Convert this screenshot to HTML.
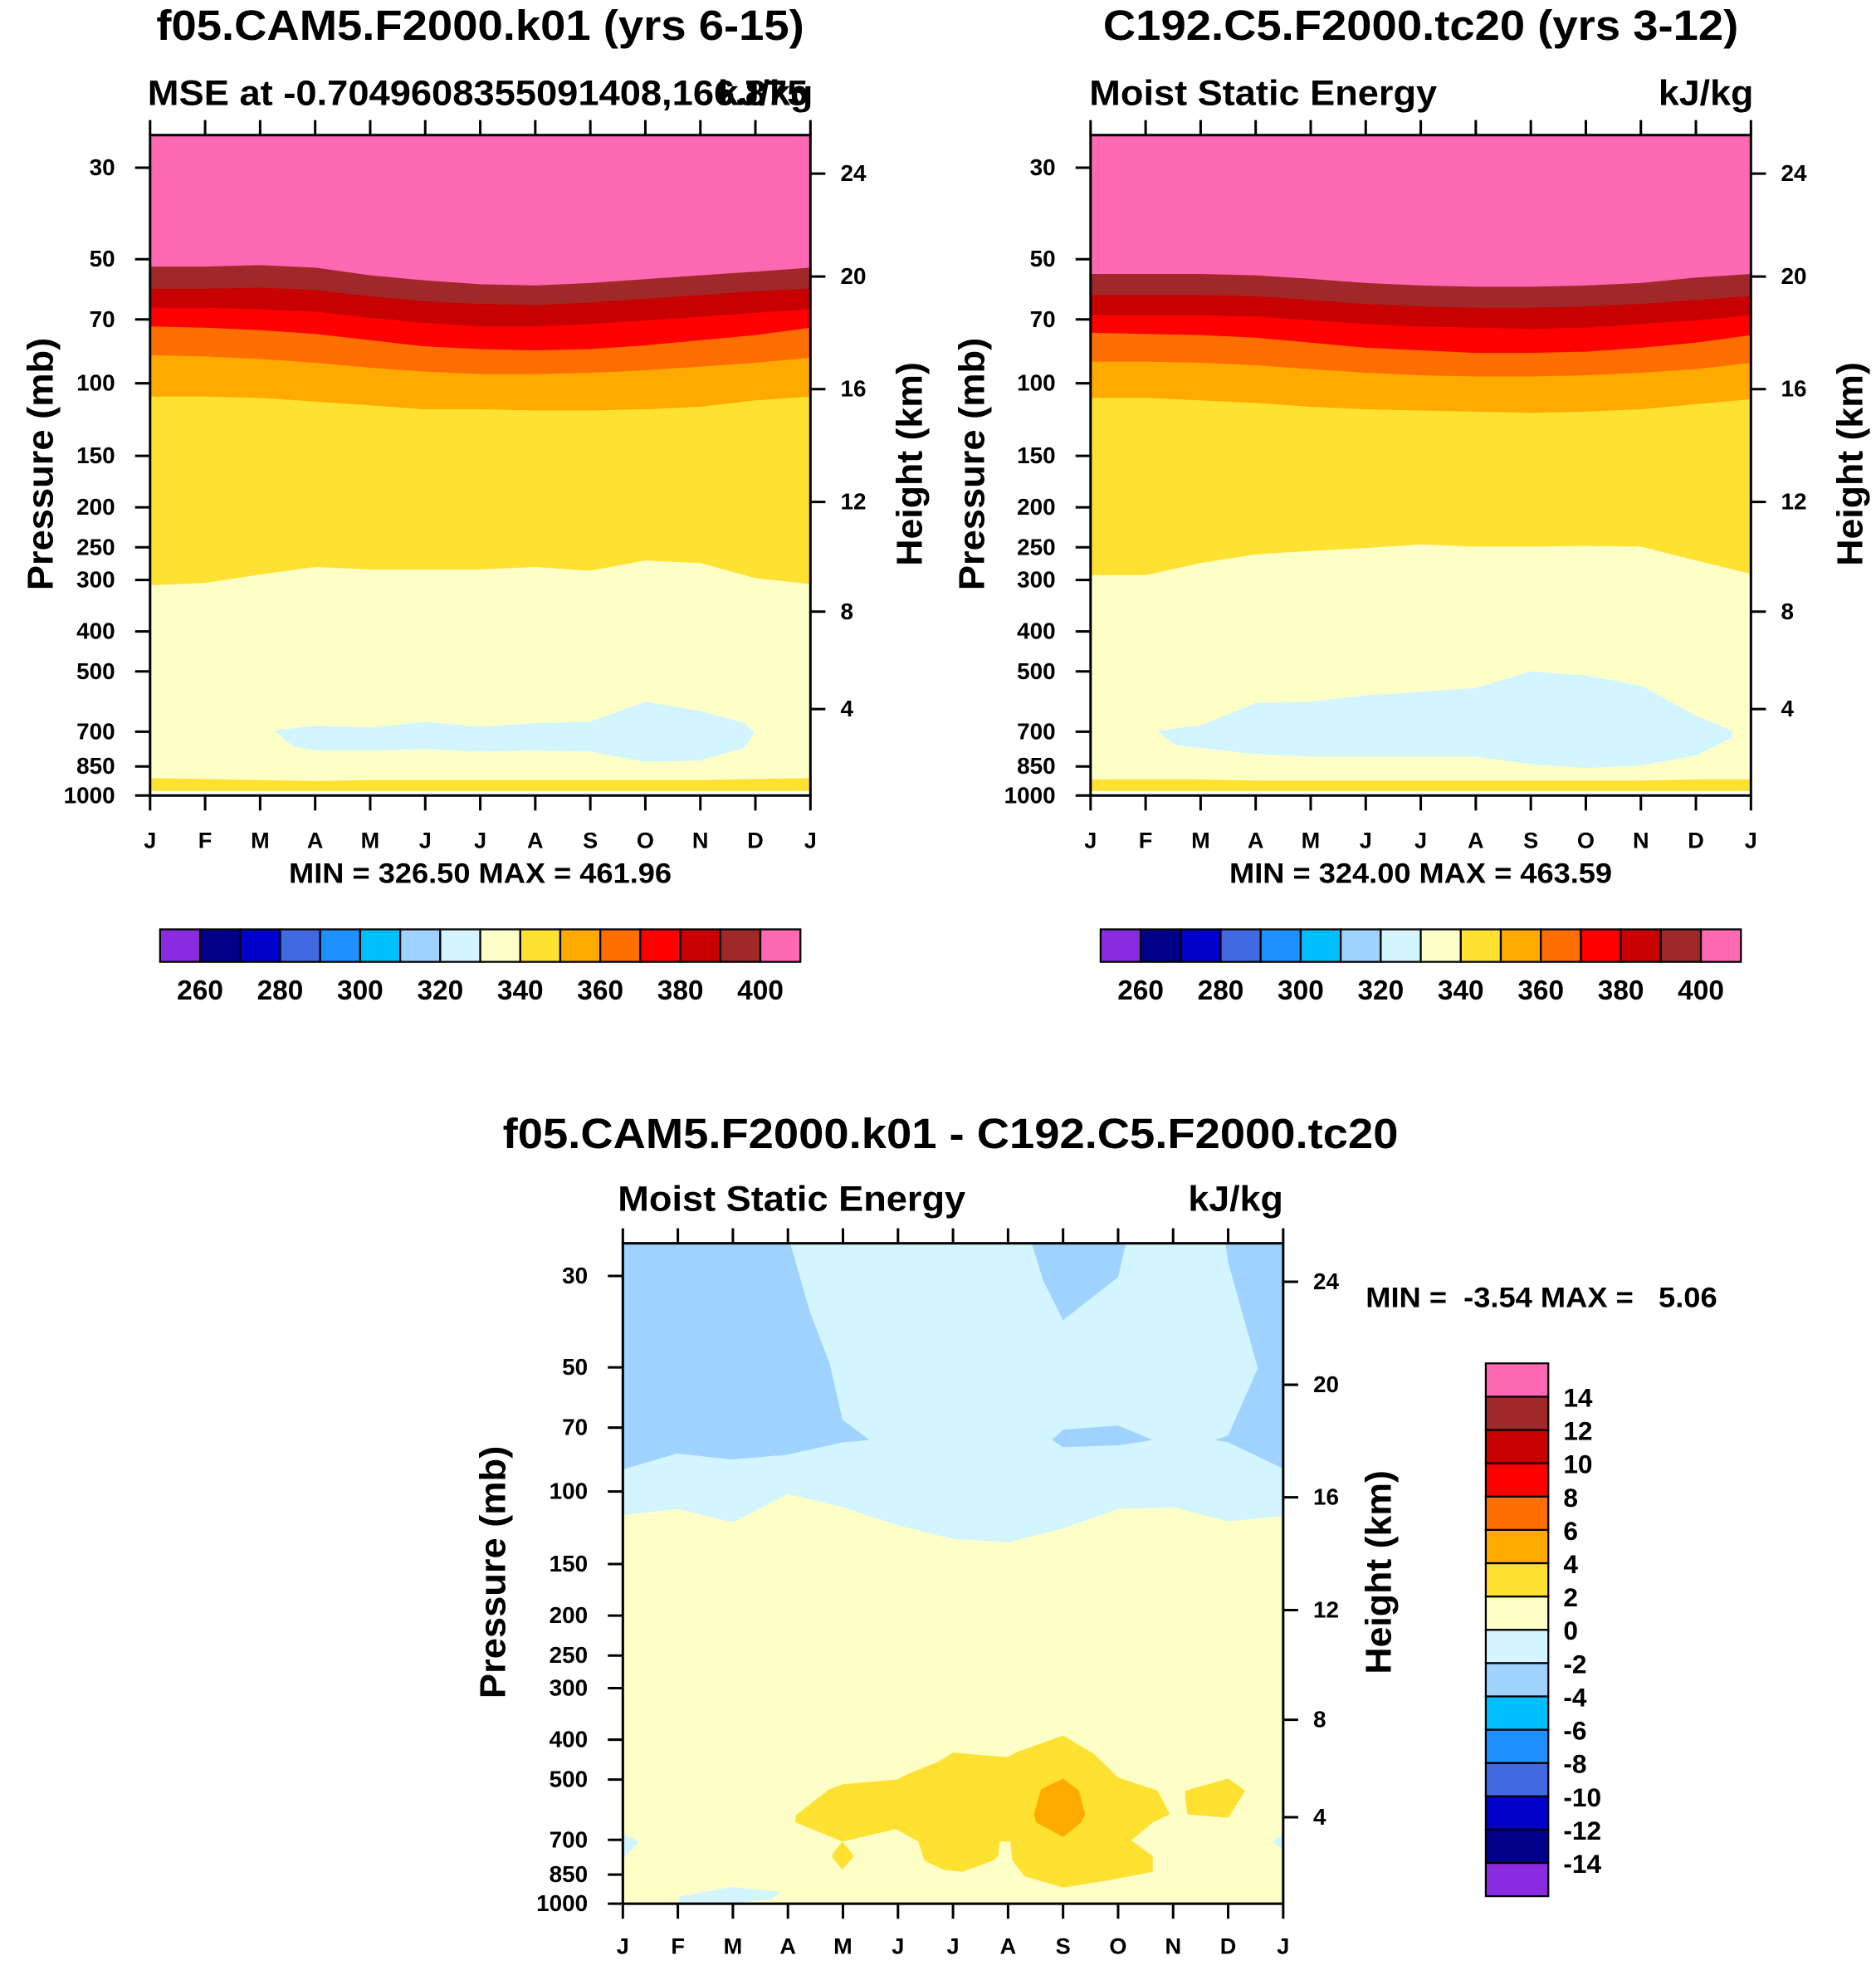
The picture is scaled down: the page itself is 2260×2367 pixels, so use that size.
<!DOCTYPE html>
<html><head><meta charset="utf-8"><style>
html,body{margin:0;padding:0;background:#fff}
svg{display:block}
text{font-family:"Liberation Sans",Arial,sans-serif;font-weight:bold;fill:#000}
</style></head><body>
<svg id="fig" xmlns="http://www.w3.org/2000/svg" width="2260" height="2367" viewBox="0 0 1500 1571"></svg>
<script>
// ---------- data ----------
const months = ['J','F','M','A','M','J','J','A','S','O','N','D','J'];
const pTicks = [30,50,70,100,150,200,250,300,400,500,700,850,1000];
const hTickLabels = [24,20,16,12,8,4];
const hTickPress = [31.0,55.1,103.3,194,358,617];
const colors = ['#8A2BE2','#00008B','#0000CD','#4169E1','#1E90FF','#00BFFF','#A0D2FF','#D2F5FF','#FFFFC8','#FFE132','#FFAA00','#FF6E00','#FF0000','#C80000','#A02828','#FF69B4'];
const mseLabels = [260,280,300,320,340,360,380,400];
const diffLabels = [14,12,10,8,6,4,2,0,-2,-4,-6,-8,-10,-12,-14];

// Panel 1 (f05.CAM5) contour boundaries, pressure (mb) per month
const k01_400 = [52.1,52.1,51.7,52.4,54.7,56.3,57.5,57.9,57.1,55.9,54.7,53.6,52.4];
const k01_390 = [59.0,59.0,58.6,59.4,61.5,63.3,64.2,64.6,63.7,62.4,61.1,59.8,59.0];
const k01_380 = [65.6,65.6,66.1,67.0,69.4,71.4,72.8,72.8,71.8,70.4,68.9,67.5,66.1];
const k01_370 = [72.8,73.3,74.3,75.9,78.6,81.4,82.6,83.2,82.6,80.9,78.6,76.4,73.3];
const k01_360 = [85.5,86.1,87.3,89.2,91.7,93.7,95.0,95.0,94.3,93.0,91.1,89.2,86.7];
const k01_350 = [107.7,107.7,108.5,110.8,113.2,115.6,115.6,116.4,116.4,115.6,114.0,110.0,107.7];
const k01_340 = [309,305,291,279,283,283,283,279,285,269,273,297,307];
const k01_330 = [[2.25,696],[3,676],[4,685],[5,662],[6,681],[7,667],[8,662],[9,592],[10,623],[10.8,667],[10.98,705],[10.8,766],[10,823],[9,829],[8,783],[7,778],[6,783],[5,772],[4,778],[3,778],[2.6,761]];
const k01_sfc = [907,912,917,922,917,917,917,917,917,917,917,912,907];

// Panel 2 (C192) contour boundaries
const tc20_400 = [54.3,54.3,54.3,54.7,55.8,57.1,57.9,58.3,58.3,57.9,57.1,55.4,54.3];
const tc20_390 = [61.1,61.1,61.1,61.5,62.8,64.2,65.1,65.6,65.6,65.1,64.2,62.8,61.5];
const tc20_380 = [68.4,68.4,68.4,68.9,70.4,71.8,72.8,73.3,73.8,73.3,71.8,70.4,68.4];
const tc20_370 = [75.4,75.9,76.4,77.5,79.7,82.0,83.2,84.4,84.4,83.8,82.0,79.7,76.4];
const tc20_360 = [88.6,88.6,89.2,90.4,92.4,94.3,95.6,96.3,96.3,95.6,94.3,92.4,89.2];
const tc20_350 = [108.5,108.5,110.0,111.6,114.0,115.6,116.4,117.2,118.0,117.2,115.6,112.4,109.3];
const tc20_340 = [292,292,273,260,255,251,246,249,249,248,249,269,290];
const tc20_330 = [[1.2,696],[2,676],[3,596],[4,592],[5,571],[6,560],[7,548],[8,500],[9,511],[10,541],[11,640],[11.66,696],[11.66,725],[11,800],[10,846],[9,858],[8,840],[7,805],[6,805],[5,805],[4,805],[3,794],[1.55,756]];
const tc20_sfc = [914,914,914,920,920,920,920,920,920,920,920,914,914];

// Difference panel
const diff_zero = [114.2,110.3,118.9,101.5,109.3,120.9,130.5,132.8,123.0,110.3,109.3,118.1,114.9];
const diff_m2a = [[0,25],[3.04,25],[3.40,36.7],[3.76,49],[3.99,67],[4.48,75],[3.99,76],[2.97,81.5],[1.97,83.6],[0.98,80.9],[0,88.4]];
const diff_m2b = [[7.43,25],[9.14,25],[9.0,30.2],[8.0,38.4],[7.64,30.8]];
const diff_m2c = [[7.8,75],[8.0,70.8],[9.0,69.2],[9.63,75],[9.0,77.3],[8.0,78.1]];
const diff_m2d = [[10.95,25],[12,25],[12,88],[11,76],[10.76,75],[11,73.2],[11.54,50.2],[11.0,27.8]];
const diff_m0a = [[1.02,961],[1.97,910],[2.88,937],[2.7,975],[1.9,1000],[1.02,1000]];
const diff_m0b = [[0,676],[0.3,707],[0,778]];
const diff_m0c = [[12,676],[11.8,707],[12,740]];
const diff_p2a = [[3.14,611],[3.75,528],[4.0,513],[4.98,500],[5.22,482],[5.74,452],[6.0,430],[6.99,441],[7.17,428],[8.0,391],[8.55,432],[8.77,461],[9.0,494],[9.72,532],[9.94,607],[9.63,635],[9.24,702],[9.63,766],[9.63,837],[8.77,880],[8.0,914],[7.3,858],[7.08,786],[7.04,707],[6.85,707],[6.82,766],[6.73,786],[6.17,837],[5.82,827],[5.48,786],[5.37,707],[4.96,659],[3.99,707],[3.14,635]];
const diff_p2b = [[3.81,757],[3.99,707],[4.2,766],[3.99,827],[3.81,774]];
const diff_p2c = [[10.22,532],[11.0,497],[11.31,532],[11.0,619],[10.26,607],[10.22,560]];
const diff_p4 = [[7.47,607],[7.6,528],[8.0,497],[8.29,532],[8.4,607],[8.33,635],[8.0,689],[7.51,635]];

// ---------- drawing ----------
const NS='http://www.w3.org/2000/svg';
const fig=document.getElementById('fig');
function mk(tag,attrs,parent){const e=document.createElementNS(NS,tag);for(const k in attrs)e.setAttribute(k,attrs[k]);(parent||fig).appendChild(e);return e;}
function txt(s,x,y,size,anchor,parent,len){const a={x:x,y:y,'font-size':size,'text-anchor':anchor||'start'};if(len){a.textLength=len;a.lengthAdjust='spacingAndGlyphs';}const t=mk('text',a,parent);t.textContent=s;return t;}

const W=528,H=528,PTOP=25;
function axes(x0,y0){
  const sx=m=>x0+W*m/12;
  const sy=p=>y0+H-H*(3-Math.log10(p))/(3-Math.log10(PTOP));
  return {sx,sy};
}
function curveFill(g,ax,arr,color,name){
  let d='M'+ax.sx(0)+','+ax.sy(1000);
  arr.forEach((p,i)=>{d+=' L'+ax.sx(i)+','+ax.sy(p);});
  d+=' L'+ax.sx(12)+','+ax.sy(1000)+' Z';
  const e=mk('path',{d:d,fill:color},g);
  
  
}
function polyFill(g,ax,pts,color,name){
  const e=mk('polygon',{points:pts.map(q=>ax.sx(q[0])+','+ax.sy(q[1])).join(' '),fill:color},g);
  
  
}
function frame(x0,y0,plabX,hlabX,monthY,prefix){
  const ax=axes(x0,y0);
  const g=mk('g',{});
  
  
  mk('rect',{x:x0,y:y0,width:W,height:H,fill:'none',stroke:'#000','stroke-width':2},g);
  months.forEach((m,i)=>{
    const x=ax.sx(i);
    mk('line',{x1:x,y1:y0,x2:x,y2:y0-12,stroke:'#000','stroke-width':2},g);
    mk('line',{x1:x,y1:y0+H,x2:x,y2:y0+H+12,stroke:'#000','stroke-width':2},g);
    const t=txt(m,x,monthY,18,'middle',g);
    
    
  });
  pTicks.forEach(p=>{
    const y=ax.sy(p);
    mk('line',{x1:x0-12,y1:y,x2:x0,y2:y,stroke:'#000','stroke-width':2},g);
    const t=txt(String(p),plabX,y+6,18.5,'end',g);
    
    
  });
  hTickLabels.forEach((h,i)=>{
    const y=ax.sy(hTickPress[i]);
    mk('line',{x1:x0+W,y1:y,x2:x0+W+12,y2:y,stroke:'#000','stroke-width':2},g);
    const t=txt(String(h),hlabX,y+6,18.5,'start',g);
    
    
  });
}
function vtitle(s,x,y,len,name){
  const t=mk('text',{x:0,y:0,'font-size':29,'text-anchor':'middle',textLength:len,lengthAdjust:'spacingAndGlyphs',transform:'translate('+x+','+y+') rotate(-90)'});
  t.textContent=s;
  
  
}
function mseBars(x0,y0,prefix){
  const g=mk('g',{});
  
  
  colors.forEach((c,i)=>{mk('rect',{x:x0+32*i,y:y0,width:32,height:26,fill:c,stroke:'#000','stroke-width':1.5},g);});
  mseLabels.forEach((v,j)=>{
    const t=txt(String(v),x0+32*(1+2*j),y0+56,22,'middle',g,37);
    
    
  });
}
function msePanel(x0,y0,data,prefix){
  const ax=axes(x0,y0);
  const g=mk('g',{});
  
  
  const bg=mk('rect',{x:x0,y:y0,width:W,height:H,fill:colors[15]},g);
  
  
  const names=['400','390','380','370','360','350','340'];
  for(let k=0;k<7;k++) curveFill(g,ax,data.b[k],colors[14-k],'band-below-'+names[k]);
  polyFill(g,ax,data.cyan,colors[7],'band-below-330');
  curveFill(g,ax,data.sfc,colors[9],'surface-band');
  curveFill(g,ax,data.sfc.map(()=>975),'#ffffff','below-surface');
}

// Panel 1
msePanel(120,108,{b:[k01_400,k01_390,k01_380,k01_370,k01_360,k01_350,k01_340],cyan:k01_330,sfc:k01_sfc},'left-panel');
frame(120,108,92,672,678,'left-panel');
// Panel 2
msePanel(872,108,{b:[tc20_400,tc20_390,tc20_380,tc20_370,tc20_360,tc20_350,tc20_340],cyan:tc20_330,sfc:tc20_sfc},'right-panel');
frame(872,108,844,1424,678,'right-panel');
// Diff panel
(function(){
  const x0=498,y0=994,ax=axes(x0,y0);
  const g=mk('g',{});
  
  
  const bg=mk('rect',{x:x0,y:y0,width:W,height:H,fill:colors[7]},g);
  
  
  curveFill(g,ax,diff_zero,colors[8],'band-0-2');
  polyFill(g,ax,diff_m2a,colors[6],'band-minus4-minus2');
  polyFill(g,ax,diff_m2b,colors[6],'band-minus4-minus2');
  polyFill(g,ax,diff_m2c,colors[6],'band-minus4-minus2');
  polyFill(g,ax,diff_m2d,colors[6],'band-minus4-minus2');
  polyFill(g,ax,diff_m0a,colors[7],'band-minus2-0');
  polyFill(g,ax,diff_m0b,colors[7],'band-minus2-0');
  polyFill(g,ax,diff_m0c,colors[7],'band-minus2-0');
  polyFill(g,ax,diff_p2a,colors[9],'band-2-4');
  polyFill(g,ax,diff_p2b,colors[9],'band-2-4');
  polyFill(g,ax,diff_p2c,colors[9],'band-2-4');
  polyFill(g,ax,diff_p4,colors[10],'band-4-6');
})();
frame(498,994,470,1050,1562,'diff-panel');

// Titles & labels
function lab(s,x,y,size,anchor,len,name){const t=txt(s,x,y,size,anchor,null,len);return t;}
lab('f05.CAM5.F2000.k01 (yrs 6-15)',384,32,34,'middle',518,'left-title');
lab('MSE at -0.7049608355091408,166.875',118,84,28,'start',528,'left-subtitle');
lab('kJ/kg',650,84,28,'end',76,'left-units');
lab('C192.C5.F2000.tc20 (yrs 3-12)',1136,32,34,'middle',508,'right-title');
lab('Moist Static Energy',871,84,28,'start',278,'right-subtitle');
lab('kJ/kg',1402,84,28,'end',76,'right-units');
lab('MIN = 326.50 MAX = 461.96',384,706,23,'middle',306,'left-minmax');
lab('MIN = 324.00 MAX = 463.59',1136,706,23,'middle',306,'right-minmax');
lab('f05.CAM5.F2000.k01 - C192.C5.F2000.tc20',760,918,34,'middle',716,'diff-title');
lab('Moist Static Energy',494,968,28,'start',278,'diff-subtitle');
lab('kJ/kg',1026,968,28,'end',76,'diff-units');
const dm=lab('MIN =  -3.54 MAX =   5.06',1092,1045,23,'start',281,'diff-minmax');
dm.setAttribute('style','white-space:pre');
vtitle('Pressure (mb)',42,371,202,'left-y-axis-title');
vtitle('Height (km)',737,371,163,'left-y2-axis-title');
vtitle('Pressure (mb)',787,371,202,'right-y-axis-title');
vtitle('Height (km)',1489,371,163,'right-y2-axis-title');
vtitle('Pressure (mb)',404,1257,202,'diff-y-axis-title');
vtitle('Height (km)',1112,1257,163,'diff-y2-axis-title');

mseBars(128,743,'left');
mseBars(880,743,'right');
(function(){
  const g=mk('g',{});
  
  
  const bh=426/16;
  colors.forEach((c,i)=>{mk('rect',{x:1188,y:1090+bh*(15-i),width:50,height:bh,fill:c,stroke:'#000','stroke-width':1.5},g);});
  diffLabels.forEach((v,j)=>{
    const t=txt(String(v),1250,1090+bh*(j+1)+8,21,'start',g);
    
    
  });
})();
</script>
</body></html>
